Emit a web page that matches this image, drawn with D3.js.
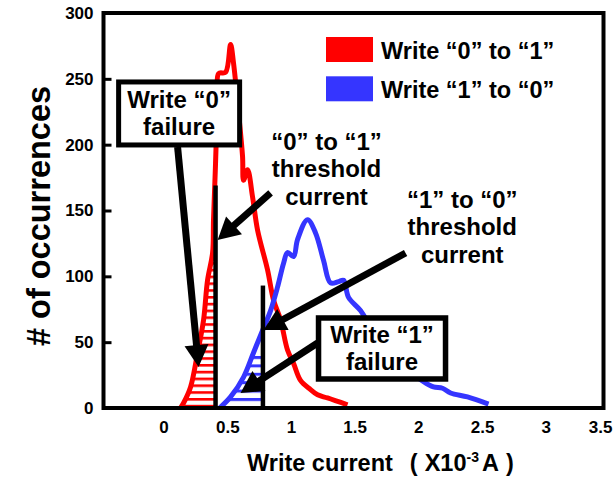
<!DOCTYPE html>
<html>
<head>
<meta charset="utf-8">
<script src="https://cdn.jsdelivr.net/npm/d3@7"></script>
<style>
  html, body { margin: 0; padding: 0; background: #fff; }
  svg { display: block; font-family: "Liberation Sans", Arial, Helvetica, sans-serif; font-weight: bold; }
</style>
</head>
<body>
<svg id="chart" width="614" height="477"></svg>
<script>
// ---- data ----
const seriesNames = ["Write \u201c0\u201d to \u201c1\u201d", "Write \u201c1\u201d to \u201c0\u201d"];
const seriesColors = ["#ff0000", "#3535ff"];

// Write "0" -> "1" distribution (current in mA, number of occurrences)
const current01 = [0.133, 0.157, 0.212, 0.267, 0.314, 0.345, 0.385, 0.392, 0.408, 0.424, 0.432, 0.487, 0.526, 0.549, 0.589, 0.620, 0.628, 0.659, 0.699, 0.738, 0.816, 0.863, 0.918, 0.973, 1.020, 1.075, 1.154, 1.209, 1.287, 1.444];
const count01   = [0,     3.8,   16,    42,    67,    97,    118,   143,   186,   236,   254,   255,   276,   262,   224,   191,   173,   181,   160,   135,   105,   82,    67,    44,    34,    21,    14,    10,    7.6,   2.3];

// Write "1" -> "0" distribution
const current10 = [0.440, 0.526, 0.628, 0.706, 0.777, 0.840, 0.895, 0.942, 0.973, 1.020, 1.052, 1.130, 1.193, 1.256, 1.311, 1.374, 1.413, 1.452, 1.546, 1.625, 1.727, 1.860, 2.041, 2.119, 2.190, 2.253, 2.386, 2.551];
const count10   = [0,     8.4,   23.5,  42,    59,    74,    92,    110,   118,   115,   128,   143,   133,   112,   95,    96,    97,    84,    74,    61.5,  46,    34,    20,    16,    15,    11.4,  8.4,   3];

// threshold currents and the height of their marker lines
const thresholdCurrent = [0.408, 0.78];
const thresholdHeight  = [169, 93];
// failure (hatched) region extends up to this count
const failureCap = [170, 40];

const xTicks = [0, 0.5, 1, 1.5, 2, 2.5, 3, 3.5];
const yTicks = [0, 50, 100, 150, 200, 250, 300];

const xTitle = "Write current";
const yTitle = "# of occurrences";

// annotation callouts (anchors in data units)
const failureBoxes = [
  { lines: ["Write \u201c0\u201d", "failure"], cx: 0.122, cy: 223.7, w: 121, h: 63, stroke: 5 },
  { lines: ["Write \u201c1\u201d", "failure"], cx: 1.715, cy: 45.2,  w: 127, h: 61, stroke: 5.5 }
];
const thresholdLabels = [
  { lines: ["\u201c0\u201d to \u201c1\u201d", "threshold", "current"], cx: 1.279, top: 196 },
  { lines: ["\u201c1\u201d to \u201c0\u201d", "threshold", "current"], cx: 2.345, top: 151.9 }
];
const arrows = [
  { from: [0.110, 198.2], to: [0.275, 31.1] },
  { from: [0.840, 163.3], to: [0.424, 127.6] },
  { from: [1.900, 117.7], to: [0.785, 59.2] },
  { from: [1.209, 49.4],  to: [0.604, 11.4] }
];

// ---- layout ----
const svg = d3.select("#chart");
const frame = { left: 103.5, right: 603.5, top: 13, bottom: 408 };

const x = d3.scaleLinear().domain([-0.4717, 3.4537]).range([frame.left, frame.right]);
const y = d3.scaleLinear().domain([0, 300]).range([frame.bottom, frame.top]);

const defs = svg.append("defs");
function hatch(id, color, period, thick) {
  const p = defs.append("pattern")
    .attr("id", id).attr("patternUnits", "userSpaceOnUse")
    .attr("width", 20).attr("height", period)
    .attr("y", frame.bottom - 10);
  p.append("rect").attr("x", 0).attr("y", 0).attr("width", 20).attr("height", thick).attr("fill", color);
}
hatch("hatch0", seriesColors[0], 6.8, 2.6);
hatch("hatch1", seriesColors[1], 8.4, 3);

const series = [
  d3.zip(current01, count01),
  d3.zip(current10, count10)
];

const curve = d3.curveCatmullRom.alpha(0.5);
const line = d3.line().x(d => x(d[0])).y(d => y(d[1])).curve(curve);
const area = d3.area().x(d => x(d[0])).y0(y(0)).y1(d => y(d[1])).curve(curve);

// hatched failure regions: area under each curve, left of its threshold
series.forEach((pts, i) => {
  const cid = "clip" + i;
  defs.append("clipPath").attr("id", cid).append("rect")
    .attr("x", x(pts[0][0]) - 4)
    .attr("y", y(failureCap[i]))
    .attr("width", x(thresholdCurrent[i]) - x(pts[0][0]) + 4)
    .attr("height", y(0) - y(failureCap[i]));
  svg.append("path").datum(pts)
    .attr("d", area)
    .attr("fill", `url(#hatch${i})`)
    .attr("clip-path", `url(#${cid})`);
});

// distribution curves
series.forEach((pts, i) => {
  svg.append("path").datum(pts)
    .attr("d", line)
    .attr("fill", "none")
    .attr("stroke", seriesColors[i])
    .attr("stroke-width", 5)
    .attr("stroke-linejoin", "round")
    .attr("stroke-linecap", "butt");
});

// threshold markers
svg.selectAll(".thr").data(thresholdCurrent).enter().append("line")
  .attr("x1", d => x(d)).attr("x2", d => x(d))
  .attr("y1", y(0)).attr("y2", (d, i) => y(thresholdHeight[i]))
  .attr("stroke", "#000").attr("stroke-width", 4.5);

// axes
const yAxis = svg.append("g")
  .attr("transform", `translate(${frame.left},0)`)
  .call(d3.axisLeft(y).tickValues(yTicks).tickSize(-8).tickPadding(10).tickFormat(d => d));
yAxis.select(".domain").remove();
yAxis.selectAll(".tick line").attr("stroke", "#000").attr("stroke-width", 3);
yAxis.selectAll(".tick text")
  .attr("font-size", 17).attr("font-weight", "bold").attr("fill", "#000")
  .attr("font-family", "Liberation Sans, Arial, sans-serif");

const xAxis = svg.append("g")
  .attr("transform", `translate(0,${frame.bottom})`)
  .call(d3.axisBottom(x).tickValues(xTicks).tickSize(0).tickPadding(13).tickFormat(d => d));
xAxis.select(".domain").remove();
xAxis.selectAll(".tick text")
  .attr("font-size", 17).attr("font-weight", "bold").attr("fill", "#000")
  .attr("font-family", "Liberation Sans, Arial, sans-serif");
// keep the outermost label inside the page
xAxis.selectAll(".tick").each(function (d) {
  const t = d3.select(this).select("text");
  const w = t.node().getComputedTextLength();
  const over = x(d) + w / 2 - 612;
  if (over > 0) t.attr("x", -over);
});

// frame
svg.append("rect")
  .attr("x", frame.left).attr("y", frame.top)
  .attr("width", frame.right - frame.left).attr("height", frame.bottom - frame.top)
  .attr("fill", "none").attr("stroke", "#000").attr("stroke-width", 4);

// axis titles
svg.append("text")
  .attr("transform", `translate(50,216) rotate(-90)`)
  .attr("text-anchor", "middle")
  .attr("font-size", 32.5)
  .text(yTitle);

const xt = svg.append("text")
  .attr("x", 247).attr("y", 471)
  .attr("font-size", 23.5);
xt.append("tspan").text(xTitle);
xt.append("tspan").attr("dx", 17).text("(");
xt.append("tspan").attr("dx", 7).text("X10");
xt.append("tspan").attr("dy", -9).attr("font-size", 14).text("-3");
xt.append("tspan").attr("dy", 9).attr("dx", 3).text("A");
xt.append("tspan").attr("dx", 7).text(")");

// legend
const legend = svg.append("g");
seriesNames.forEach((name, i) => {
  legend.append("rect")
    .attr("x", 326).attr("y", 37 + i * 39.3)
    .attr("width", 47).attr("height", 25)
    .attr("fill", seriesColors[i]);
  legend.append("text")
    .attr("x", 381).attr("y", 58.5 + i * 39)
    .attr("font-size", 23.5)
    .text(name);
});

// callout arrows
function arrow(a) {
  const x1 = x(a.from[0]), y1 = y(a.from[1]);
  const x2 = x(a.to[0]), y2 = y(a.to[1]);
  const dx = x2 - x1, dy = y2 - y1, L = Math.hypot(dx, dy);
  const ux = dx / L, uy = dy / L;
  const head = 22, half = 12;
  const bx = x2 - ux * head, by = y2 - uy * head;
  svg.append("line")
    .attr("x1", x1).attr("y1", y1).attr("x2", bx + ux * 2).attr("y2", by + uy * 2)
    .attr("stroke", "#000").attr("stroke-width", 7);
  svg.append("path")
    .attr("d", `M${x2},${y2}L${bx - uy * half},${by + ux * half}L${bx + uy * half},${by - ux * half}Z`)
    .attr("fill", "#000");
}
arrows.forEach(arrow);

// failure boxes
failureBoxes.forEach(b => {
  const cx = x(b.cx), cy = y(b.cy);
  svg.append("rect")
    .attr("x", cx - b.w / 2).attr("y", cy - b.h / 2)
    .attr("width", b.w).attr("height", b.h)
    .attr("fill", "#fff").attr("stroke", "#000").attr("stroke-width", b.stroke);
  const t = svg.append("text").attr("text-anchor", "middle").attr("font-size", 24);
  b.lines.forEach((s, k) => {
    t.append("tspan").attr("x", cx).attr("y", cy - 5.5 + k * 27.5).text(s);
  });
});

// threshold labels
thresholdLabels.forEach(l => {
  const t = svg.append("text").attr("text-anchor", "middle").attr("font-size", 24);
  l.lines.forEach((s, k) => {
    t.append("tspan").attr("x", x(l.cx)).attr("y", y(l.top) + k * 27.5).text(s);
  });
});
</script>
</body>
</html>
